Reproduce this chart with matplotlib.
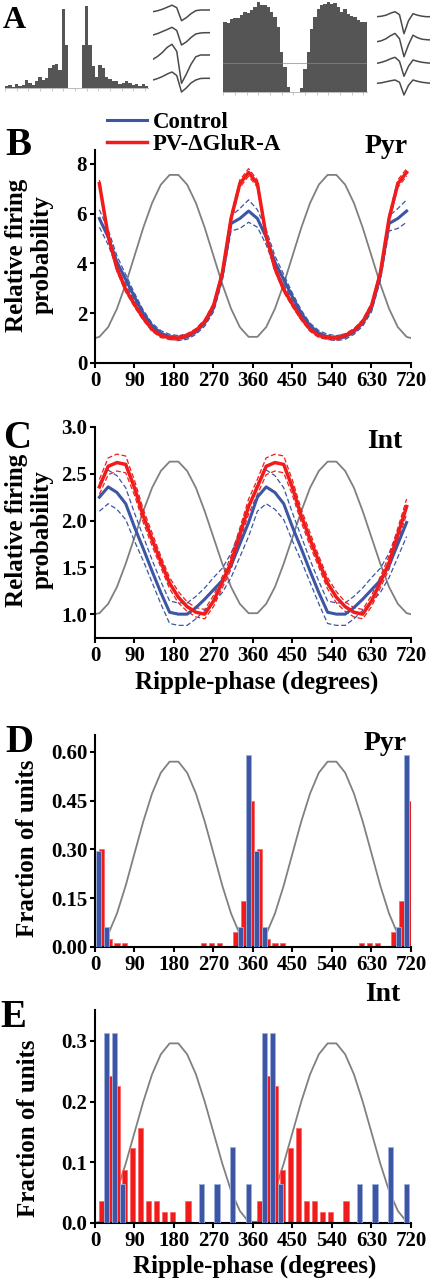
import numpy as np
import matplotlib.pyplot as plt

plt.rcParams['font.family'] = ['Liberation Serif', 'DejaVu Serif']
plt.rcParams['font.weight'] = 'bold'

W, H = 431, 1280
BLUE = '#3c56a5'
RED = '#f01c1c'
GREY = '#808080'
DARK = '#555555'

# ---------------- A: autocorrelograms + spike waveforms ----------------
acg_pyr = [2.7, 3.3, 1, 4.3, 2.3, 3.3, 8, 5, 3.3, 7.3, 11.7, 8.3, 10, 20, 23, 24, 18,
           79, 43, 0, 0, 0, 0, 43, 82, 43, 22, 11, 23, 20, 11, 9, 7, 7, 4.3, 5.7,
           7.7, 5.7, 3.3, 4, 2.3, 4, 2.3]
acg_int = [70, 68.3, 72.3, 73.3, 73.3, 76.7, 80, 78.3, 81.7, 84.3, 90, 86.7, 86.7, 85,
           80, 75, 65, 40, 25, 5, 0, 0, 0, 4, 23, 40, 63, 75, 83, 87, 88, 90, 88, 89,
           85, 80, 83, 78, 76, 75, 72, 70, 70]
acg_int_ref = 28.3

wave_pyr = [
    [0, 1, 2.5, 4.5, 6.5, 4, -9, -6, -2, 1, 1.7, 1.7, 1.7],
    [0, 1.5, 3.5, 5.5, 7.7, 4.5, -10, -7, -2.5, 1, 2, 2.3, 2.3],
    [0, 3, 7, 12, 15, 8, -24, -15, -5, 2.5, 4.3, 4.3, 4.3],
    [0, 1.5, 3.5, 6, 8, 4.5, -12, -8, -3, 0, 1.5, 1.7, 1.7],
]
wave_int = [
    [0, 0.5, 1.5, 3.5, 5, 2, -17, -4, 3, 1.5, 0.5, 0, 0],
    [0, 1, 3, 6, 8.3, 3, -15, -3, 6.5, 4, 2.5, 2, 1.7],
    [0, 1, 2.5, 4.5, 6, 2, -13, -3, 3.3, 2, 1, 0.5, 0],
    [0, 0.5, 1.5, 2.5, 3.3, 1, -11.7, -2, 3.3, 2, 1, 0.5, 0],
]

# ---------------- B, C: relative firing probability (one cycle, drawn twice) ----------------
phase = np.arange(10, 360, 20)

pyr_ctrl = [5.8, 5.05, 4.05, 3.35, 2.65, 2.0, 1.5, 1.2, 1.05, 1.0, 1.05, 1.25, 1.6, 2.2, 3.5, 5.6, 5.8, 6.1]
pyr_ctrl_sem = [0.35, 0.3, 0.25, 0.2, 0.15, 0.12, 0.1, 0.1, 0.1, 0.1, 0.1, 0.1, 0.12, 0.15, 0.2, 0.3, 0.4, 0.45]
pyr_pv = [7.2, 5.1, 3.8, 2.95, 2.35, 1.8, 1.35, 1.1, 1.02, 1.0, 1.1, 1.3, 1.65, 2.3, 3.6, 5.8, 7.2, 7.65]
pyr_pv_sem = [0.15, 0.12, 0.12, 0.1, 0.1, 0.08, 0.08, 0.08, 0.08, 0.08, 0.08, 0.08, 0.1, 0.1, 0.12, 0.15, 0.15, 0.15]

int_ctrl = [2.25, 2.36, 2.3, 2.18, 1.93, 1.7, 1.46, 1.23, 1.02, 1.0, 1.0, 1.07, 1.16, 1.26, 1.36, 1.52, 1.75, 1.98]
int_ctrl_sem = [0.15, 0.18, 0.18, 0.17, 0.15, 0.13, 0.12, 0.12, 0.12, 0.12, 0.12, 0.12, 0.12, 0.13, 0.13, 0.13, 0.14, 0.15]
int_pv = [2.36, 2.58, 2.62, 2.6, 2.35, 2.05, 1.8, 1.56, 1.33, 1.18, 1.08, 1.02, 1.0, 1.14, 1.34, 1.55, 1.85, 2.15]
int_pv_sem = [0.08, 0.09, 0.09, 0.09, 0.08, 0.07, 0.07, 0.06, 0.06, 0.06, 0.05, 0.05, 0.05, 0.06, 0.06, 0.07, 0.07, 0.08]

# grey reference ripple: value at 0 deg, then values at the 10..350 grid
ripple_b0, ripple_b = 1.0, [1.05, 1.44, 2.18, 3.17, 4.3, 5.43, 6.42, 7.16, 7.55, 7.55, 7.16, 6.42, 5.43, 4.3, 3.17, 2.18, 1.44, 1.05]
ripple_c0, ripple_c = 1.0, [1.01, 1.11, 1.29, 1.54, 1.82, 2.10, 2.35, 2.53, 2.63, 2.63, 2.53, 2.35, 2.10, 1.82, 1.54, 1.29, 1.11, 1.01]
ripple_d0, ripple_d = 0.0, [0.004, 0.039, 0.103, 0.189, 0.288, 0.386, 0.472, 0.536, 0.570, 0.570, 0.536, 0.472, 0.386, 0.288, 0.189, 0.103, 0.039, 0.004]
ripple_e0, ripple_e = 0.0, [0.002, 0.020, 0.053, 0.098, 0.149, 0.200, 0.245, 0.278, 0.296, 0.296, 0.278, 0.245, 0.200, 0.149, 0.098, 0.053, 0.020, 0.002]

# ---------------- D, E: fraction of units per 18 deg phase bin ----------------
bins = np.arange(11, 360, 18)
pyr_frac_ctrl = [0.295, 0.061, 0, 0, 0, 0, 0, 0, 0, 0, 0, 0, 0, 0, 0, 0, 0, 0, 0.061, 0.59]
pyr_frac_pv = [0.30, 0.024, 0.012, 0.012, 0, 0, 0, 0, 0, 0, 0, 0, 0, 0.012, 0.012, 0.012, 0, 0.045, 0.14, 0.45]
int_frac_ctrl = [0, 0.313, 0.313, 0.064, 0, 0, 0, 0, 0, 0, 0, 0, 0, 0.064, 0, 0.064, 0, 0.125, 0, 0.064]
int_frac_pv = [0.036, 0.243, 0.225, 0.087, 0.124, 0.157, 0.036, 0.036, 0.018, 0.018, 0, 0.036, 0, 0, 0, 0, 0, 0, 0, 0]

fig = plt.figure(figsize=(W / 100, H / 100), dpi=100)


def px_axes(l, t, r, b):
    return fig.add_axes([l / W, 1 - b / H, (r - l) / W, (b - t) / H])


def fx(x):
    return x / W


def fy(y):
    return 1 - y / H


def style(ax):
    for s in ['top', 'right']:
        ax.spines[s].set_visible(False)
    for s in ['left', 'bottom']:
        ax.spines[s].set_linewidth(1.5)
    ax.tick_params(direction='out', length=3.6, width=1.5, labelsize=15, pad=2)
    ax.set_xlim(0, 720)
    ax.set_xticks(np.arange(0, 721, 90))
    ax.patch.set_alpha(0)


def twice(v):
    return np.r_[v, v]


x2 = np.r_[phase, phase + 360]


def ripple(ax, v0, v):
    ax.plot(np.r_[0, x2, 720], np.r_[v0, v, v, v0], color=GREY, lw=1.3, zorder=1)


def mean_sem(ax, m, s, color, lw, label):
    m, s = twice(m), twice(s)
    ax.plot(x2, m + s, color=color, lw=0.9, ls=(0, (4, 2)), zorder=2)
    ax.plot(x2, m - s, color=color, lw=0.9, ls=(0, (4, 2)), zorder=2)
    return ax.plot(x2, m, color=color, lw=lw, zorder=3, label=label)[0]


def acg(ax, counts, top):
    ax.bar(np.arange(len(counts)), counts, width=1.0, color=DARK)
    ax.set_xlim(-0.5, len(counts) - 0.5)
    ax.set_ylim(0, top)
    for s in ['top', 'right', 'left']:
        ax.spines[s].set_visible(False)
    ax.spines['bottom'].set_color('#b0b0b0')
    ax.spines['bottom'].set_linewidth(0.6)
    ax.set_yticks([])
    ax.set_xticks(np.arange(-0.5, len(counts), 3.5))
    ax.tick_params(axis='x', length=2, width=0.5, color='#b0b0b0', labelbottom=False)


# ---- A ----
ax = px_axes(5, 3.3, 148.3, 88.3)
acg(ax, acg_pyr, 85)

ax = px_axes(223.3, 0, 366.7, 91.7)
acg(ax, acg_int, 91.7)
ax.axhline(acg_int_ref, color='#8a8a8a', lw=0.5)

for waves, (l, r), bases in [(wave_pyr, (153, 210), [11.7, 35, 59.3, 80]),
                             (wave_int, (377, 431), [16.7, 41.7, 63.3, 83.3])]:
    for w, b in zip(waves, bases):
        ax = px_axes(l, b - 30, r, b + 30)
        ax.plot(np.arange(len(w)), w, color='#4a4a4a', lw=1.1)
        ax.set_xlim(0, len(w) - 1)
        ax.set_ylim(-30, 30)
        ax.axis('off')

# ---- B ----
ax = px_axes(95, 150, 411, 363)
style(ax)
ripple(ax, ripple_b0, ripple_b)
h1 = mean_sem(ax, pyr_ctrl, pyr_ctrl_sem, BLUE, 2.2, 'Control')
h2 = mean_sem(ax, pyr_pv, pyr_pv_sem, RED, 2.5, 'PV-ΔGluR-A')
ax.set_ylim(0, 8.55)
ax.set_yticks([0, 2, 4, 6, 8])
ax.legend(handles=[h1, h2], loc='upper left', bbox_to_anchor=(fx(107), fy(112)),
          bbox_transform=fig.transFigure, frameon=False, fontsize=16.5,
          handlelength=1.75, handletextpad=0.25, labelspacing=0.05,
          borderpad=0, borderaxespad=0)

# ---- C ----
ax = px_axes(95, 427, 411, 638)
style(ax)
ripple(ax, ripple_c0, ripple_c)
mean_sem(ax, int_ctrl, int_ctrl_sem, BLUE, 2.2, 'Control')
mean_sem(ax, int_pv, int_pv_sem, RED, 2.5, 'PV-ΔGluR-A')
ax.set_ylim(0.745, 3.0)
ax.set_yticks([1.0, 1.5, 2.0, 2.5, 3.0])
ax.set_yticklabels(['1.0', '1.5', '2.0', '2.5', '3.0'])

# ---- D ----
ax = px_axes(95, 735, 411, 947)
style(ax)
ripple(ax, ripple_d0, ripple_d)
xb = np.r_[bins, bins + 360]
ax.bar(xb + 3, twice(pyr_frac_pv), width=12, color=RED, edgecolor='#ff6060', lw=0.5, zorder=2)
ax.bar(xb - 3, twice(pyr_frac_ctrl), width=12, color=BLUE, edgecolor='#9fb2dc', lw=0.6, zorder=3)
ax.set_ylim(0, 0.652)
ax.set_yticks([0, 0.15, 0.30, 0.45, 0.60])
ax.set_yticklabels(['0.00', '0.15', '0.30', '0.45', '0.60'])

# ---- E ----
ax = px_axes(95, 1010, 411, 1223)
style(ax)
ripple(ax, ripple_e0, ripple_e)
ax.bar(xb + 3, twice(int_frac_pv), width=12, color=RED, edgecolor='#ff6060', lw=0.5, zorder=2)
ax.bar(xb - 3, twice(int_frac_ctrl), width=12, color=BLUE, edgecolor='#9fb2dc', lw=0.6, zorder=3)
ax.set_ylim(0, 0.351)
ax.set_yticks([0, 0.1, 0.2, 0.3])
ax.set_yticklabels(['0.0', '0.1', '0.2', '0.3'])

# ---- texts ----
fig.text(fx(3), fy(28), 'A', fontsize=23, va='baseline')
for letter, x, y in [('B', 5, 155), ('C', 3, 448), ('D', 5, 752), ('E', 0, 1027)]:
    fig.text(fx(x), fy(y), letter, fontsize=28, va='baseline')
for s, x, y in [('Pyr', 408, 153), ('Int', 402, 448), ('Pyr', 407, 750), ('Int', 400, 1001)]:
    fig.text(fx(x), fy(y), s, fontsize=20, ha='right', va='baseline')
for s, x, y in [('Relative firing\nprobability', 29, 255), ('Relative firing\nprobability', 29, 530),
                ('Fraction of units', 28, 848), ('Fraction of units', 29, 1128)]:
    fig.text(fx(x), fy(y), s, fontsize=18, rotation=90, ha='center', va='center',
             multialignment='center', linespacing=1.15)
for x, y in [(257, 682), (255, 1266)]:
    fig.text(fx(x), fy(y), 'Ripple-phase (degrees)', fontsize=18, ha='center', va='center')

fig.savefig('out.png', dpi=100)
